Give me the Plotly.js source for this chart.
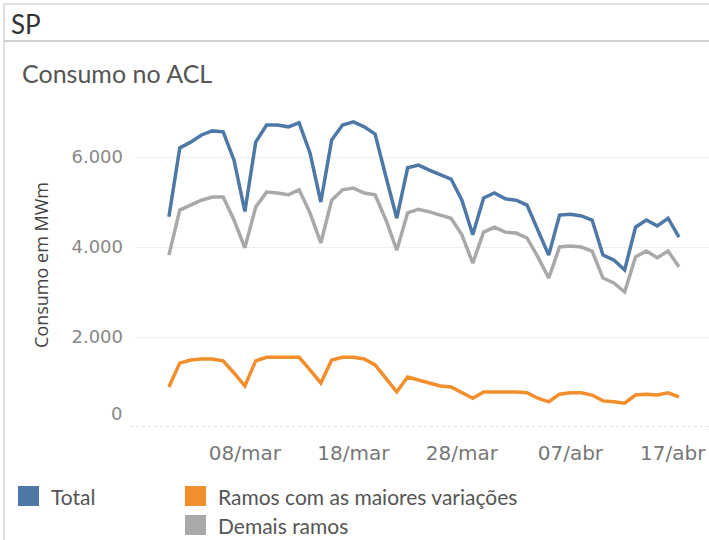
<!DOCTYPE html>
<html>
<head>
<meta charset="utf-8">
<script src="https://cdn.plot.ly/plotly-3.0.1.min.js"></script>
<style>
  html, body { margin: 0; padding: 0; background: #fff; }
  #chart { width: 709px; height: 540px; }
</style>
</head>
<body>
<div id="chart"></div>
<script>
// dias (01/mar a 17/abr)
var dias = [
  '2020-03-01','2020-03-02','2020-03-03','2020-03-04','2020-03-05','2020-03-06','2020-03-07',
  '2020-03-08','2020-03-09','2020-03-10','2020-03-11','2020-03-12','2020-03-13','2020-03-14',
  '2020-03-15','2020-03-16','2020-03-17','2020-03-18','2020-03-19','2020-03-20','2020-03-21',
  '2020-03-22','2020-03-23','2020-03-24','2020-03-25','2020-03-26','2020-03-27','2020-03-28',
  '2020-03-29','2020-03-30','2020-03-31','2020-04-01','2020-04-02','2020-04-03','2020-04-04',
  '2020-04-05','2020-04-06','2020-04-07','2020-04-08','2020-04-09','2020-04-10','2020-04-11',
  '2020-04-12','2020-04-13','2020-04-14','2020-04-15','2020-04-16','2020-04-17'
];

var total = [
  4670, 6200, 6330, 6490, 6580, 6560, 5930,
  4790, 6330, 6710, 6710, 6670, 6760, 6090,
  5000, 6380, 6710, 6780, 6670, 6510, 5560,
  4640, 5760, 5820, 5710, 5600, 5510, 5040,
  4270, 5090, 5200, 5070, 5040, 4930, 4380,
  3820, 4710, 4730, 4690, 4600, 3820, 3710,
  3490, 4440, 4600, 4470, 4640, 4220
];

var maioresVariacoes = [
  890, 1420, 1490, 1510, 1510, 1470, 1200,
  910, 1470, 1550, 1550, 1550, 1550, 1270,
  980, 1490, 1550, 1550, 1510, 1380, 1070,
  780, 1110, 1040, 980, 910, 890, 760,
  640, 780, 780, 780, 780, 760, 640,
  560, 730, 760, 760, 710, 580, 560,
  530, 710, 730, 710, 760, 670
];

var demaisRamos = [
  3820, 4820, 4930, 5040, 5110, 5110, 4600,
  3980, 4890, 5220, 5200, 5160, 5270, 4760,
  4090, 5040, 5270, 5310, 5200, 5160, 4600,
  3930, 4760, 4840, 4780, 4710, 4640, 4270,
  3640, 4330, 4440, 4330, 4310, 4200, 3780,
  3310, 4000, 4020, 4000, 3910, 3310, 3200,
  3000, 3780, 3910, 3760, 3910, 3560
];

var marcasX = ['2020-03-08', '2020-03-18', '2020-03-28', '2020-04-07'];
var rotulosX = ['08/mar', '18/mar', '28/mar', '07/abr'];
var rotuloFinal = '17/abr'; // last date label, pushed inside the right edge like the original
var marcasY = [2000, 4000, 6000];

var series = [
  { nome: 'Total', valores: total, cor: '#4e79a7' },
  { nome: 'Ramos com as maiores variações', valores: maioresVariacoes, cor: '#f28e2b' },
  { nome: 'Demais ramos', valores: demaisRamos, cor: '#a9a9a9' }
];

// plot area in pixels, used to place the frame and legend
var L = 135, R = 709, T = 103, B = 427;
function px(x) { return (x - L) / (R - L); }
function py(y) { return (B - y) / (B - T); }

var traces = series.slice().reverse().map(function (s) {
  return {
    x: dias,
    y: s.valores,
    type: 'scatter',
    mode: 'lines',
    name: s.nome,
    line: { color: s.cor, width: 3.5 },
    hoverinfo: 'skip'
  };
});

var cinza = '#d6d6d6';
var shapes = [
  // frame
  { type: 'line', xref: 'paper', yref: 'paper', x0: px(4), x1: px(712), y0: py(4), y1: py(4), line: { color: cinza, width: 1.5 } },
  { type: 'line', xref: 'paper', yref: 'paper', x0: px(4), x1: px(4), y0: py(4), y1: py(545), line: { color: cinza, width: 1.5 } },
  { type: 'line', xref: 'paper', yref: 'paper', x0: px(4), x1: px(712), y0: py(41), y1: py(41), line: { color: '#cfcfcf', width: 2 } },
  // zero line
  { type: 'line', xref: 'paper', yref: 'y', x0: px(130), x1: px(712), y0: 0, y1: 0, line: { color: '#c4c4c4', width: 1, dash: 'dot' } }
];

var fonteEixo = { family: 'DejaVu Sans, sans-serif', size: 20, color: '#777' };

var annotations = [
  { text: 'Consumo no ACL', xref: 'paper', yref: 'paper', x: px(20), y: py(73), xanchor: 'left', yanchor: 'middle',
    showarrow: false, font: { family: 'Lato, sans-serif', size: 25, color: '#555' } },
  { text: '0', xref: 'paper', yref: 'y', x: px(124), y: 0, yshift: 14, xanchor: 'right', yanchor: 'middle',
    showarrow: false, font: { family: 'DejaVu Sans, sans-serif', size: 18, color: '#888' } },
  { text: rotuloFinal, xref: 'paper', yref: 'paper', x: px(708), y: py(453), xanchor: 'right', yanchor: 'middle',
    showarrow: false, font: fonteEixo }
];

// legend drawn as squares + labels
var legendPos = [[18, 496], [185, 496], [185, 525]];
series.forEach(function (s, i) {
  var p = legendPos[i];
  shapes.push({ type: 'rect', xref: 'paper', yref: 'paper', x0: px(p[0]), x1: px(p[0] + 21), y0: py(p[1] - 10), y1: py(p[1] + 10),
    fillcolor: s.cor, line: { width: 0 } });
  annotations.push({ text: s.nome, xref: 'paper', yref: 'paper', x: px(p[0] + 31), y: py(p[1]), xanchor: 'left', yanchor: 'middle',
    showarrow: false, font: { family: 'Lato, sans-serif', size: 21, color: '#555' } });
});

var layout = {
  width: 709,
  height: 540,
  margin: { l: L, r: 709 - R, t: T, b: 540 - B, pad: 0 },
  paper_bgcolor: '#fff',
  plot_bgcolor: '#fff',
  separators: ',.',
  showlegend: false,
  title: {
    text: 'SP',
    xref: 'container', yref: 'container',
    x: 11 / 709, y: 1 - 25 / 540,
    xanchor: 'left', yanchor: 'middle',
    font: { family: 'Lato, sans-serif', size: 26, color: '#333' }
  },
  xaxis: {
    type: 'date',
    range: ['2020-02-26 21:00', '2020-04-19 18:30'],
    tickvals: marcasX,
    ticktext: rotulosX,
    ticks: '',
    ticklabelstandoff: 12,
    showgrid: false,
    zeroline: false,
    showline: false,
    tickfont: fonteEixo
  },
  yaxis: {
    range: [0, 7200],
    tickvals: marcasY,
    tickformat: ',d',
    ticks: '',
    ticklabelstandoff: 11,
    showgrid: true,
    gridcolor: '#efefef',
    gridwidth: 1,
    zeroline: false,
    showline: false,
    tickfont: { family: 'DejaVu Sans, sans-serif', size: 18, color: '#888' },
    title: {
      text: 'Consumo em MWm',
      standoff: 18,
      font: { family: 'Open Sans, sans-serif', size: 18, color: '#444' }
    }
  },
  shapes: shapes,
  annotations: annotations
};

Plotly.newPlot('chart', traces, layout, { displayModeBar: false, staticPlot: true });
</script>
</body>
</html>
